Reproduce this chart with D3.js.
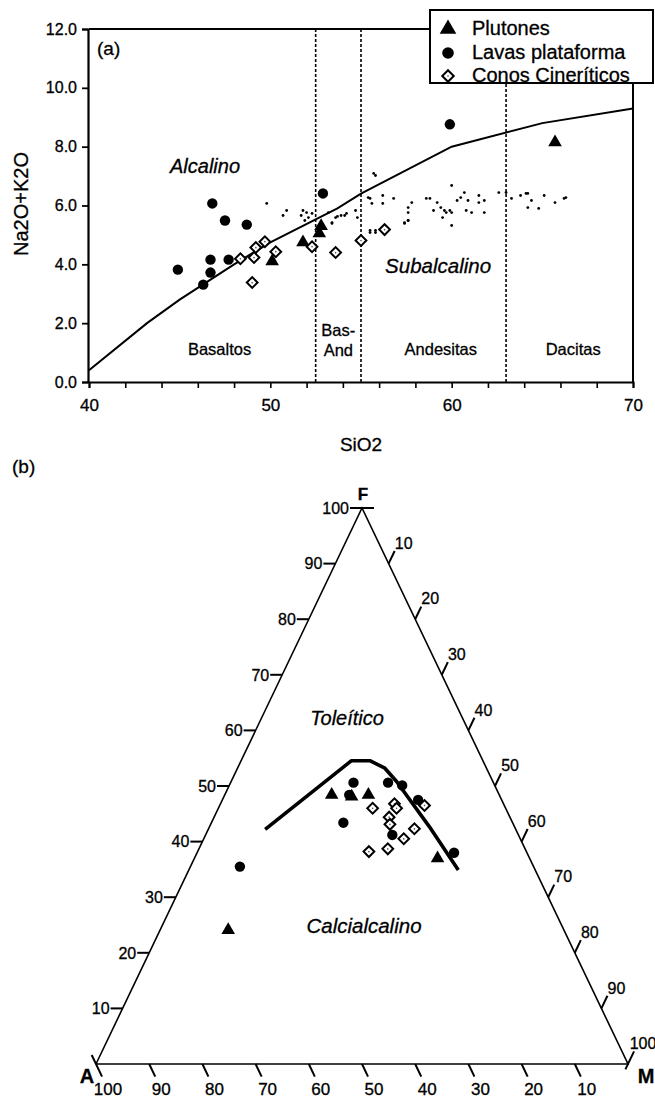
<!DOCTYPE html>
<html><head><meta charset="utf-8">
<script src="https://cdn.jsdelivr.net/npm/d3@7"></script>
<style>
body{margin:0;background:#fff;}
svg{display:block;}
text{font-family:"Liberation Sans",Arial,sans-serif;fill:#000;stroke:#000;stroke-width:0.3px;}
.narrow{font-family:"Liberation Sans Narrow","Arial Narrow","Liberation Sans",sans-serif;font-stretch:condensed;}
</style>
</head><body>
<svg id="c" width="655" height="1101"></svg>
<script>
// ---------- DATA: (a) TAS diagram ----------
const xTickValues = d3.range(40, 71, 2);
const xTickLabels = [40, 50, 60, 70];
const yTickLabels = [0, 2, 4, 6, 8, 10, 12];
const plutonesTAS = [[50.1,4.1],[51.8,4.75],[52.7,5.05],[52.8,5.3],[65.7,8.15]];
const lavasTAS = [[44.9,3.82],[46.3,3.31],[46.7,3.72],[46.7,4.16],[47.7,4.16],[47.5,5.49],[48.7,5.35],[46.8,6.07],[52.9,6.41],[59.9,8.76]];
const conosTAS = [[48.35,4.19],[49.1,4.23],[49.2,4.57],[49.7,4.77],[50.3,4.43],[49.0,3.38],[52.3,4.6],[53.6,4.4],[55.0,4.81],[56.3,5.18]];
const otherTAS = [[49.8,6.07],[50.9,5.83],[50.7,5.66],[51.8,5.83],[51.7,5.66],[52.0,5.76],[51.9,5.49],[52.1,5.59],[52.3,5.73],
  [53.2,5.76],[53.4,5.42],[53.6,5.59],[53.9,5.66],[54.2,5.73],[54.7,5.83],[54.8,5.59],[55.4,6.27],[55.6,6.07],[55.8,7.02],
  [55.5,5.15],[55.8,5.15],[55.7,7.09],[55.5,6.24],[56.2,6.34],[56.2,6.07],[56.8,6.24],[57.4,5.42],[57.6,5.49],[57.6,5.76],
  [57.6,5.93],[57.8,6.10],[58.6,6.24],[58.8,6.24],[59.0,5.83],[59.2,6.10],[59.4,5.93],[59.6,5.83],[59.7,5.76],[59.9,5.83],
  [60.0,5.76],[59.5,5.59],[60.0,5.32],[60.0,6.68],[60.3,6.17],[60.7,6.44],[60.5,6.27],[60.9,6.17],[60.8,5.83],[61.1,5.76],
  [61.5,6.34],[61.5,6.10],[61.8,6.17],[61.8,5.76],[62.6,6.44],[63.0,6.44],[63.3,6.24],[63.8,6.34],[64.1,6.41],[64.2,6.41],
  [64.4,6.17],[64.2,5.93],[64.8,5.90],[65.1,6.34],[65.7,6.10],[66.2,6.24],[66.3,6.27],
  [55.5,5.08],[55.8,5.08],[53.4,5.39],[53.7,5.63],[54.1,5.66],[57.4,5.39],[57.6,5.49]];
const alkalineLine = [[40,0.4],[43.2,2.0],[45,2.8],[48,4.0],[50,4.75],[53.7,5.9],[55,6.4],[60,8.0],[65,8.8],[70,9.3]];
const rockBoundaries = [52.5, 55, 63];
const rockNames = ["Basaltos", "Bas-", "And", "Andesitas", "Dacitas"];
const legendNames = ["Plutones", "Lavas plataforma", "Conos Cineríticos"];

// ---------- DATA: (b) AFM diagram, [A, F, M] ----------
const afmTicks = d3.range(10, 101, 10);
const plutonesAFM = [[31.5,48.4,20.1],[27.9,48.1,24.0],[24.6,48.4,27.0],[17.3,37.0,45.7],[63.1,24.1,12.8]];
const lavasAFM = [[26.3,50.6,23.1],[28.2,48.4,23.4],[31.8,43.4,24.8],[19.8,50.6,29.6],[17.4,50.1,32.5],[15.7,47.5,36.8],[23.7,41.2,35.1],[13.7,38.0,48.3],[55.2,35.5,9.3]];
const conosAFM = [[25.0,46.0,29.0],[20.5,46.8,32.7],[20.5,46.0,33.5],[22.7,44.4,32.9],[23.2,43.1,33.7],[19.0,42.3,38.7],[21.9,40.5,37.6],[15.0,46.5,38.5],[29.6,38.2,32.2],[25.8,38.7,35.5]];
const boundaryAFM = [[47.1,42.2,10.7],[24.7,54.55,20.75],[21.25,54.55,24.2],[19.1,53.2,27.7],[18.1,50.8,31.1],[16.0,42.7,41.3],[14.45,34.9,50.65]];

// ---------- DRAW ----------
const svg = d3.select("#c");
const x = d3.scaleLinear([40, 70], [89, 633]);
const y = d3.scaleLinear([0, 12], [382, 29]);
const gA = svg.append("g");

gA.selectAll(".rb").data(rockBoundaries).join("line")
  .attr("x1", d => x(d)).attr("x2", d => x(d)).attr("y1", y(12)).attr("y2", y(0))
  .attr("stroke", "#000").attr("stroke-width", 1.6).attr("stroke-dasharray", "3,2");

gA.append("line").attr("x1", x(40)).attr("x2", x(70)).attr("y1", y(12)).attr("y2", y(12)).attr("stroke", "#000").attr("stroke-width", 2);
gA.append("line").attr("x1", x(70)).attr("x2", x(70)).attr("y1", y(12)).attr("y2", y(0)).attr("stroke", "#000").attr("stroke-width", 2);

const xAxis = d3.axisBottom(x).tickValues(xTickValues).tickSize(6).tickFormat(d => xTickLabels.includes(d) ? d : "");
gA.append("g").attr("transform", `translate(0,${y(0)})`).call(xAxis)
  .call(g => g.select(".domain").attr("stroke-width", 2))
  .call(g => g.selectAll(".tick line").attr("stroke-width", 1.6))
  .call(g => g.selectAll(".tick text").attr("font-size", 17).attr("font-family", "Liberation Sans, Arial, sans-serif").attr("dy", "1.15em"));
const yAxis = d3.axisLeft(y).tickValues(yTickLabels).tickSize(6).tickFormat(d3.format(".1f"));
gA.append("g").attr("transform", `translate(${x(40) - 1},0)`).call(yAxis)
  .call(g => g.select(".domain").attr("stroke-width", 2.2))
  .call(g => g.selectAll(".tick line").attr("stroke-width", 1.8))
  .call(g => g.selectAll(".tick text").attr("font-size", 16).attr("font-family", "Liberation Sans, Arial, sans-serif").attr("x", -11));

gA.append("path").datum(alkalineLine)
  .attr("d", d3.line().x(d => x(d[0])).y(d => y(d[1])))
  .attr("fill", "none").attr("stroke", "#000").attr("stroke-width", 2);

gA.selectAll(".od").data(otherTAS).join("circle")
  .attr("cx", d => x(d[0])).attr("cy", d => y(d[1])).attr("r", 1.4).attr("fill", "#000");

const tri = d3.symbol().type(d3.symbolTriangle).size(80);
const triL = d3.symbol().type(d3.symbolTriangle).size(120);
const sq = d3.symbol().type(d3.symbolSquare).size(58);
const sqL = d3.symbol().type(d3.symbolSquare).size(66);

function drawCircles(g, data, px, py, r) {
  g.selectAll(null).data(data).join("circle").attr("cx", px).attr("cy", py).attr("r", r).attr("fill", "#000");
}
function drawTriangles(g, data, px, py, sym) {
  g.selectAll(null).data(data).join("path").attr("d", sym)
    .attr("transform", d => `translate(${px(d)},${py(d)})`).attr("fill", "#000");
}
function drawDiamonds(g, data, px, py, sym) {
  const s = g.selectAll(null).data(data).join("g").attr("transform", d => `translate(${px(d)},${py(d)}) rotate(45)`);
  s.append("path").attr("d", sym).attr("fill", "#fff").attr("stroke", "#000").attr("stroke-width", 2);
  s.append("circle").attr("r", 0.8).attr("fill", "#555");
}

drawCircles(gA, lavasTAS, d => x(d[0]), d => y(d[1]), 5.2);
drawTriangles(gA, plutonesTAS, d => x(d[0]), d => y(d[1]), tri);
drawDiamonds(gA, conosTAS, d => x(d[0]), d => y(d[1]), sq);

gA.append("text").attr("x", 97).attr("y", 55).attr("font-size", 19).text("(a)");
gA.append("text").attr("x", x(46.4)).attr("y", 173).attr("font-size", 20).attr("font-style", "italic").attr("text-anchor", "middle").text("Alcalino");
gA.append("text").attr("x", x(59.25)).attr("y", 273).attr("font-size", 20.5).attr("font-style", "italic").attr("text-anchor", "middle").text("Subalcalino");
const nameAnchors = [[47.2, 355], [53.75, 336], [53.75, 356], [59.4, 355], [66.7, 355]];
gA.selectAll(".rn").data(rockNames).join("text")
  .attr("x", (d, i) => x(nameAnchors[i][0])).attr("y", (d, i) => nameAnchors[i][1])
  .attr("text-anchor", "middle").attr("font-size", 16.5).text(d => d);
gA.append("text").attr("x", x(55)).attr("y", 451).attr("font-size", 19).attr("text-anchor", "middle").text("SiO2");
gA.append("text").attr("transform", `translate(28,${y(6.05)}) rotate(-90)`).attr("font-size", 20).attr("text-anchor", "middle").text("Na2O+K2O");

const lg = gA.append("g");
lg.append("rect").attr("x", 430).attr("y", 10).attr("width", 223).attr("height", 73)
  .attr("fill", "#fff").attr("stroke", "#000").attr("stroke-width", 2);
lg.append("path").attr("d", triL).attr("transform", "translate(448,29)").attr("fill", "#000");
lg.append("circle").attr("cx", 448).attr("cy", 53).attr("r", 5.8).attr("fill", "#000");
const ld = lg.append("g").attr("transform", "translate(448,76) rotate(45)");
ld.append("path").attr("d", sqL).attr("fill", "#fff").attr("stroke", "#000").attr("stroke-width", 2);
ld.append("circle").attr("r", 0.8).attr("fill", "#555");
lg.selectAll(".lt").data(legendNames).join("text")
  .attr("x", 472).attr("y", (d, i) => 35 + i * 23.5).attr("font-size", 20).text(d => d);

// ---------- (b) ternary ----------
const gB = svg.append("g");
const tx = d3.scaleLinear([0, 100], [96, 628]);
const ty = d3.scaleLinear([0, 100], [1064, 508]);
function proj(d) {
  const s = d[0] + d[1] + d[2];
  const f = d[1] * 100 / s, m = d[2] * 100 / s;
  return [tx(m + f / 2), ty(f)];
}
const Apt = proj([100, 0, 0]), Fpt = proj([0, 100, 0]), Mpt = proj([0, 0, 100]);
gB.append("path").attr("d", d3.line()([Apt, Fpt, Mpt, Apt]))
  .attr("fill", "none").attr("stroke", "#000").attr("stroke-width", 1.6).attr("stroke-linejoin", "miter");

const L = Math.hypot(Fpt[0] - Apt[0], Fpt[1] - Apt[1]);
const uAF = [(Fpt[0] - Apt[0]) / L, (Fpt[1] - Apt[1]) / L];
const L2 = Math.hypot(Mpt[0] - Fpt[0], Mpt[1] - Fpt[1]);
const uFM = [(Mpt[0] - Fpt[0]) / L2, (Mpt[1] - Fpt[1]) / L2];
const tl = 14;

afmTicks.forEach(v => {
  const p = proj([100 - v, v, 0]);
  gB.append("line").attr("x1", p[0] - 12).attr("x2", v === 100 ? p[0] + 12 : p[0]).attr("y1", p[1]).attr("y2", p[1])
    .attr("stroke", "#000").attr("stroke-width", 2);
  gB.append("text").attr("class", "narrow").attr("x", p[0] - 13).attr("y", p[1]).attr("dy", "0.36em")
    .attr("text-anchor", "end").attr("font-size", 16).text(v);
});
afmTicks.forEach(v => {
  const p = proj([0, 100 - v, v]);
  const back = v === 100 ? 6 : 0;
  gB.append("line").attr("x1", p[0] - uAF[0] * back).attr("y1", p[1] - uAF[1] * back)
    .attr("x2", p[0] + uAF[0] * tl).attr("y2", p[1] + uAF[1] * tl)
    .attr("stroke", "#000").attr("stroke-width", 2);
  gB.append("text").attr("class", "narrow").attr("x", p[0] + uAF[0] * tl + 9).attr("y", p[1] + uAF[1] * tl - 8)
    .attr("dy", "0.36em").attr("text-anchor", "middle").attr("font-size", 16).text(v);
});
afmTicks.forEach(v => {
  const p = proj([v, 0, 100 - v]);
  const back = v === 100 ? 10 : 0;
  gB.append("line").attr("x1", p[0] - uFM[0] * back).attr("y1", p[1] - uFM[1] * back)
    .attr("x2", p[0] + uFM[0] * tl).attr("y2", p[1] + uFM[1] * tl)
    .attr("stroke", "#000").attr("stroke-width", 2);
  gB.append("text").attr("class", "narrow").attr("x", p[0] + 12).attr("y", 1095)
    .attr("text-anchor", "middle").attr("font-size", 17).text(v);
});

gB.append("path").datum(boundaryAFM).attr("d", d3.line().x(d => proj(d)[0]).y(d => proj(d)[1]))
  .attr("fill", "none").attr("stroke", "#000").attr("stroke-width", 3.6).attr("stroke-linejoin", "round");

drawCircles(gB, lavasAFM, d => proj(d)[0], d => proj(d)[1], 5.2);
drawTriangles(gB, plutonesAFM, d => proj(d)[0], d => proj(d)[1], tri);
drawDiamonds(gB, conosAFM, d => proj(d)[0], d => proj(d)[1], sq);

gB.append("text").attr("x", 12).attr("y", 473).attr("font-size", 19).text("(b)");
gB.append("text").attr("x", Fpt[0] + 1).attr("y", 500).attr("font-size", 17).attr("font-weight", "bold").attr("text-anchor", "middle").text("F");
gB.append("text").attr("x", 87).attr("y", 1083).attr("font-size", 20).attr("font-weight", "bold").attr("text-anchor", "middle").text("A");
gB.append("text").attr("x", 646).attr("y", 1083).attr("font-size", 20).attr("font-weight", "bold").attr("text-anchor", "middle").text("M");
gB.append("text").attr("x", 347).attr("y", 725).attr("font-size", 20).attr("font-style", "italic").attr("text-anchor", "middle").text("Toleítico");
gB.append("text").attr("x", 364).attr("y", 933).attr("font-size", 20.5).attr("font-style", "italic").attr("text-anchor", "middle").text("Calcialcalino");
</script>
</body></html>
